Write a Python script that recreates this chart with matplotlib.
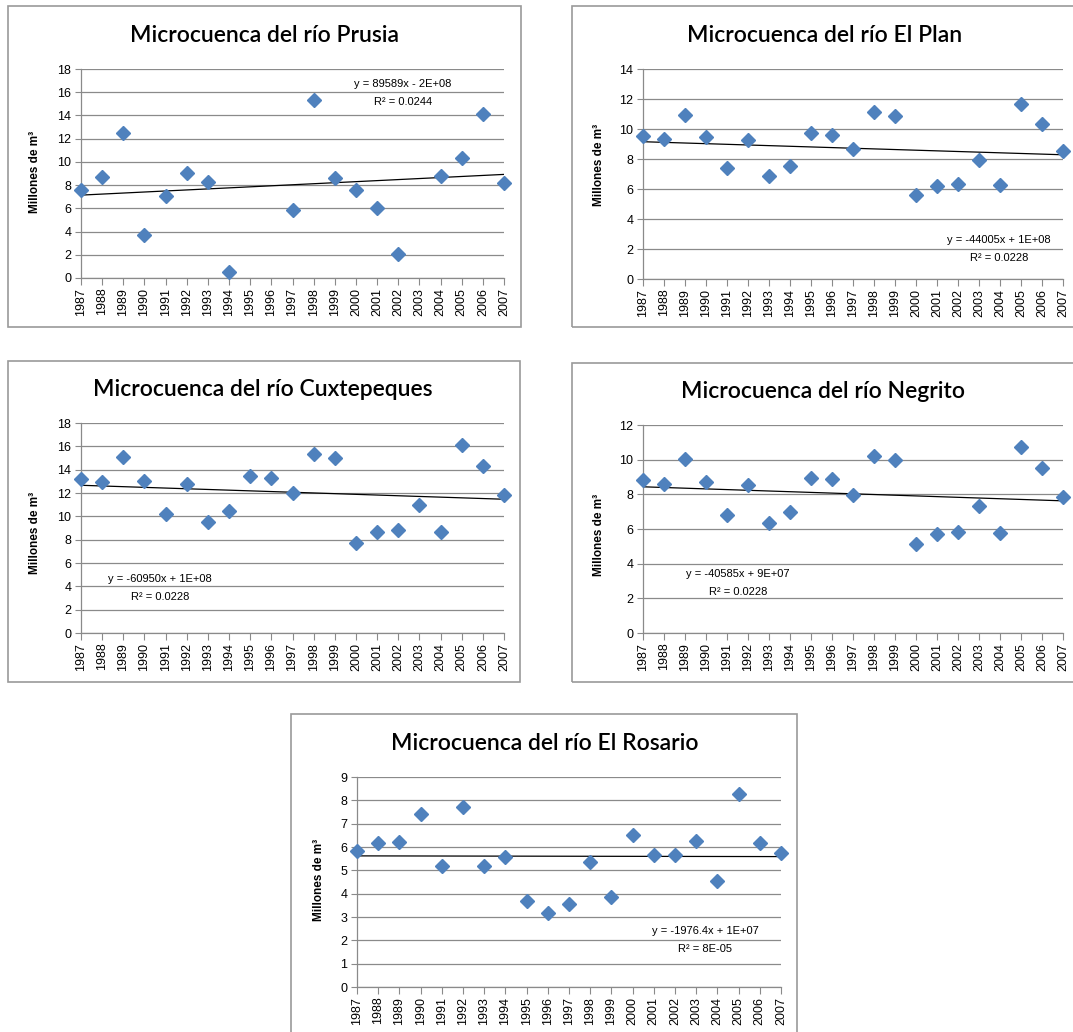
import numpy as np
import matplotlib
matplotlib.use("Agg")
import matplotlib.pyplot as plt
from matplotlib.patches import Rectangle

# categories
years = list(range(1987, 2008))
prusia_years = [1987, 1988, 1989, 1990, 1991, 1992, 1993, 1994, 1997, 1998,
                1999, 2000, 2001, 2002, 2004, 2005, 2006, 2007]

# series values (millones de m3)
prusia = [7.56, 8.68, 12.49, 3.67, 7.08, 9.08, 8.31, 0.49, 5.87, 15.33,
          8.65, 7.59, 6.02, 2.03, 8.77, 10.34, 14.10, 8.22]
el_plan = [9.55, 9.35, 10.93, 9.44, 7.37, 9.24, 6.84, 7.55, 9.71, 9.62, 8.66,
           11.11, 10.87, 5.57, 6.19, 6.33, 7.93, 6.26, 11.65, 10.36, 8.53]
cuxtepeques = [13.20, 12.94, 15.11, 13.06, 10.20, 12.77, 9.49, 10.46, 13.43,
               13.31, 11.97, 15.37, 15.03, 7.71, 8.63, 8.80, 10.97, 8.69,
               16.09, 14.31, 11.80]
negrito = [8.80, 8.61, 10.06, 8.71, 6.78, 8.52, 6.32, 6.96, 8.94, 8.86, 7.98,
           10.23, 10.00, 5.13, 5.72, 5.84, 7.30, 5.76, 10.73, 9.54, 7.84]
el_rosario = [5.84, 6.17, 6.20, 7.40, 5.17, 7.73, 5.20, 5.56, 3.67, 3.19, 3.56,
              5.34, 3.87, 6.50, 5.66, 5.67, 6.24, 4.54, 8.29, 6.16, 5.73]

titles = ["Microcuenca del río Prusia", "Microcuenca del río El Plan",
          "Microcuenca del río Cuxtepeques", "Microcuenca del río Negrito",
          "Microcuenca del río El Rosario"]
eq_labels = ["y = 89589x - 2E+08", "y = -44005x + 1E+08", "y = -60950x + 1E+08",
             "y = -40585x + 9E+07", "y = -1976.4x + 1E+07"]
r2_labels = ["R² = 0.0244", "R² = 0.0228", "R² = 0.0228", "R² = 0.0228",
             "R² = 8E-05"]
y_max = [18, 14, 18, 12, 9]
y_step = [2, 2, 2, 2, 1]

series = [(prusia_years, prusia), (years, el_plan), (years, cuxtepeques),
          (years, negrito), (years, el_rosario)]

# layout in pixels: box, plot area, title centre, ylabel centre, equation centre
W, H = 1073, 1032
layout = [
    ((8, 6, 521, 327), (81, 69, 504, 278), (265, 35), (35, 172), (403, 84)),
    ((572, 6, 1076, 327), (643, 69, 1063, 279), (825, 35), (599, 165), (999, 240)),
    ((8, 361, 520, 682), (81, 423, 504, 633), (263, 389), (35, 533), (160, 579)),
    ((572, 363, 1076, 682), (643, 425, 1063, 633), (823, 391), (599, 535), (738, 574)),
    ((291, 714, 797, 1036), (357, 777, 781, 987), (545, 744), (319, 880), (705, 931)),
]

BLUE = "#4F81BD"
GREY = "#8a8a8a"

fig = plt.figure(figsize=(W / 100, H / 100), dpi=100)
plt.rcParams["font.family"] = ["Liberation Sans", "DejaVu Sans"]


def frac(x, y):
    return x / W, 1 - y / H


for i in range(5):
    box, area, tpos, ypos, epos = layout[i]
    bx0, by0, bx1, by1 = box
    fig.patches.append(Rectangle(frac(bx0, by1), (bx1 - bx0) / W, (by1 - by0) / H,
                                 transform=fig.transFigure, fill=False,
                                 edgecolor="#9a9a9a", linewidth=1.2))
    ax0, ay0, ax1, ay1 = area
    ax = fig.add_axes([ax0 / W, 1 - ay1 / H, (ax1 - ax0) / W, (ay1 - ay0) / H])

    yrs, vals = series[i]
    xs = [years.index(y) for y in yrs]
    ax.plot(xs, vals, linestyle="none", marker="D", markersize=6.8,
            color=BLUE, zorder=3, clip_on=False)

    # linear trend fitted on the data
    k, b = np.polyfit(yrs, vals, 1)
    ax.plot([0, len(years) - 1], [k * years[0] + b, k * years[-1] + b],
            color="black", linewidth=0.9, zorder=2)

    ax.set_xlim(0, len(years) - 1)
    ax.set_ylim(0, y_max[i])
    ax.set_yticks(np.arange(0, y_max[i] + 0.1, y_step[i]))
    ax.set_xticks(range(len(years)))
    ax.set_xticklabels([str(y) for y in years], rotation=90, fontsize=9)
    ax.tick_params(axis="y", labelsize=9, length=4, color=GREY, pad=3)
    ax.tick_params(axis="x", length=5, color=GREY, pad=2)
    ax.grid(axis="y", color=GREY, linewidth=0.9)
    ax.set_axisbelow(True)
    for s in ["top", "right"]:
        ax.spines[s].set_visible(False)
    for s in ["left", "bottom"]:
        ax.spines[s].set_color(GREY)
        ax.spines[s].set_linewidth(0.9)

    fig.text(*frac(*tpos), titles[i], ha="center", va="center", fontsize=16.5,
             family=["Lato", "DejaVu Sans"], fontweight="semibold")
    fig.text(*frac(*ypos), "Millones de m³", ha="center", va="center",
             rotation=90, fontsize=8.5, fontweight="bold")
    fig.text(*frac(*epos), eq_labels[i], ha="center", va="center", fontsize=8)
    fig.text(*frac(epos[0], epos[1] + 18), r2_labels[i], ha="center",
             va="center", fontsize=8)

fig.savefig("out.png", dpi=100)
